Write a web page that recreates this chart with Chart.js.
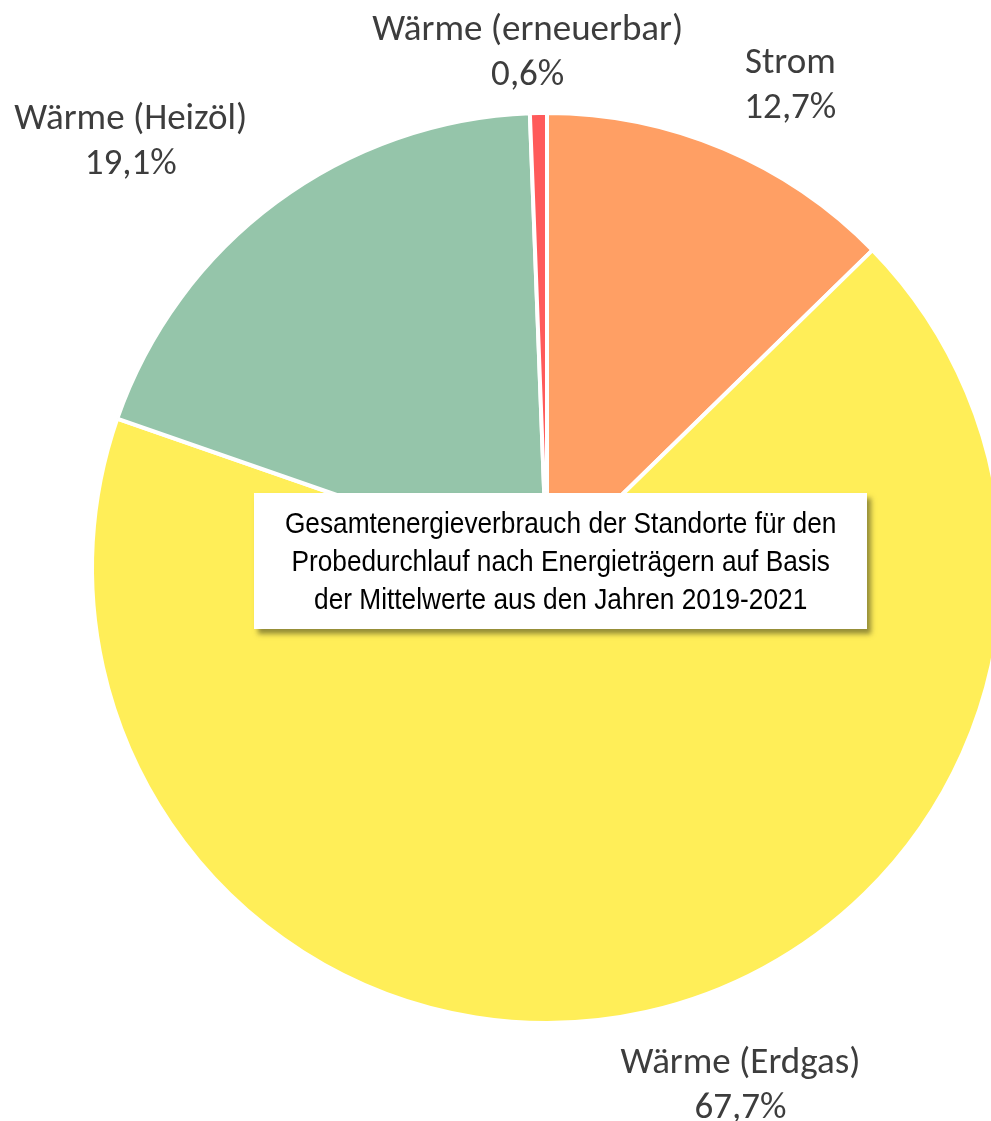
<!DOCTYPE html>
<html>
<head>
<meta charset="utf-8">
<script src="https://cdn.jsdelivr.net/npm/chart.js@4.4.1/dist/chart.umd.min.js"></script>
<style>
  html, body { margin: 0; padding: 0; background: #ffffff; overflow: hidden; width: 991px; height: 1121px; }
  #wrap { position: absolute; left: 0; top: 0; width: 1100px; height: 1121px; }
  #titleBox {
    position: absolute; left: 254px; top: 493px; width: 613px; height: 136px;
    background: #ffffff; box-shadow: 4px 5px 5px rgba(60,60,30,0.55);
    font-family: "Liberation Sans Narrow", "Arial Narrow", "Liberation Sans", sans-serif;
    font-size: 29px; line-height: 38px; color: #000; text-align: center;
    display: flex; align-items: center; justify-content: center; box-sizing: border-box;
  }
  #titleBox > div { transform: scaleX(0.905); white-space: nowrap; }
</style>
</head>
<body>
<div id="wrap"><canvas id="c"></canvas></div>
<div id="titleBox"><div>Gesamtenergieverbrauch der Standorte für den<br>Probedurchlauf nach Energieträgern auf Basis<br>der Mittelwerte aus den Jahren 2019-2021</div></div>
<script>
const categories = ["Strom", "Wärme (Erdgas)", "Wärme (Heizöl)", "Wärme (erneuerbar)"];
const shares = [12.7, 67.7, 19.1, 0.6];
const shareLabels = ["12,7%", "67,7%", "19,1%", "0,6%"];
const sliceColors = ["#FF9F64", "#FFEE58", "#95C5AA", "#FF5A5A"];

// label placement tweaks (pixels, relative to radial anchor)
const labelOffsets = [[52, -28], [86, 37], [-123, -30], [-10, -22]];

const labelPlugin = {
  id: 'outerLabels',
  afterDatasetsDraw(chart) {
    const ctx = chart.ctx;
    const meta = chart.getDatasetMeta(0);
    ctx.save();
    ctx.font = '37px Carlito, Lato, "Open Sans", sans-serif';
    ctx.fillStyle = '#3d3d3d';
    ctx.textAlign = 'center';
    ctx.textBaseline = 'middle';
    meta.data.forEach((arc, i) => {
      const p = arc.getProps(['x', 'y', 'startAngle', 'endAngle', 'outerRadius'], true);
      const mid = (p.startAngle + p.endAngle) / 2;
      const r = p.outerRadius + 38;
      const ax = p.x + Math.cos(mid) * r + labelOffsets[i][0];
      const ay = p.y + Math.sin(mid) * r + labelOffsets[i][1];
      ctx.fillText(categories[i], ax, ay - 22);
      ctx.fillText(shareLabels[i], ax, ay + 23);
    });
    ctx.restore();
  }
};

new Chart(document.getElementById('c'), {
  type: 'pie',
  data: {
    labels: categories,
    datasets: [{
      data: shares,
      backgroundColor: sliceColors,
      borderColor: '#ffffff',
      borderWidth: 4,
      radius: 455
    }]
  },
  options: {
    responsive: true,
    maintainAspectRatio: false,
    animation: false,
    layout: { padding: { left: 94, top: 115, right: 100, bottom: 100 } },
    plugins: { legend: { display: false }, tooltip: { enabled: false } }
  },
  plugins: [labelPlugin]
});
</script>
</body>
</html>
